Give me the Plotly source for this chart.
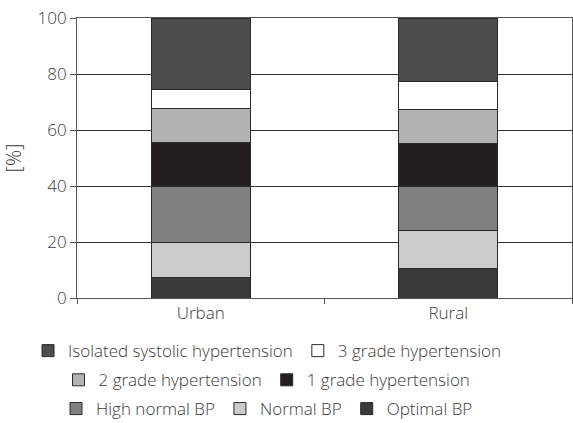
import plotly.graph_objects as go

categories = ["Urban", "Rural"]
series_names = ["Optimal BP", "Normal BP", "High normal BP", "1 grade hypertension",
                "2 grade hypertension", "3 grade hypertension", "Isolated systolic hypertension"]
optimal = [7.3, 10.5]
normal = [12.6, 13.5]
high_normal = [20.1, 16.0]
grade1 = [15.5, 15.2]
grade2 = [12.1, 12.2]
grade3 = [6.8, 9.9]
ish = [25.6, 22.7]
y_ticks = [0, 20, 40, 60, 80, 100]

values = [optimal, normal, high_normal, grade1, grade2, grade3, ish]
colors = ["#3a3a3a", "#cbcbcb", "#808080", "#231f20", "#b2b2b2", "#ffffff", "#4d4d4d"]
legend_of = ["legend3", "legend3", "legend3", "legend2", "legend2", "legend", "legend"]
ranks = [7, 6, 5, 4, 3, 2, 1]

fig = go.Figure()
for name, vals, col, lg, rk in zip(series_names, values, colors, legend_of, ranks):
    fig.add_trace(go.Bar(
        x=categories, y=vals, name=name, legend=lg, legendrank=rk,
        marker=dict(color=col, line=dict(color="#2a2a2a", width=1)),
        width=0.4,
    ))

font = dict(family="Open Sans, Noto Sans, sans-serif", size=17, color="#3a3a3a", weight=300)
legend_common = dict(orientation="h", x=0.466, xanchor="center", yanchor="middle",
                     xref="container", yref="container",
                     traceorder="normal", font=font, bgcolor="rgba(0,0,0,0)",
                     itemwidth=30, tracegroupgap=0)

fig.update_layout(
    width=573, height=423,
    margin=dict(l=77, r=1, t=18, b=125, autoexpand=False),
    barmode="stack",
    paper_bgcolor="white", plot_bgcolor="white",
    font=font,
    legend=dict(y=0.17, **legend_common),
    legend2=dict(y=0.101, **legend_common),
    legend3=dict(y=0.033, **legend_common),
    xaxis=dict(
        tickson="boundaries", ticks="outside", ticklen=5, tickcolor="#555",
        showline=True, linecolor="#555", linewidth=1, mirror=True,
        showgrid=False, automargin=False,
    ),
    yaxis=dict(
        range=[0, 100], tickvals=y_ticks, ticks="outside", ticklen=6, tickcolor="#555",
        showline=True, linecolor="#555", linewidth=1, mirror=True,
        showgrid=True, gridcolor="#333333", gridwidth=1,
        title=dict(text="[%]", standoff=26),
        zeroline=False, automargin=False, ticklabeloverflow="allow",
    ),
)

fig.write_html("out.html", config={"displayModeBar": False},
               post_script="document.body.style.margin='0px';")
